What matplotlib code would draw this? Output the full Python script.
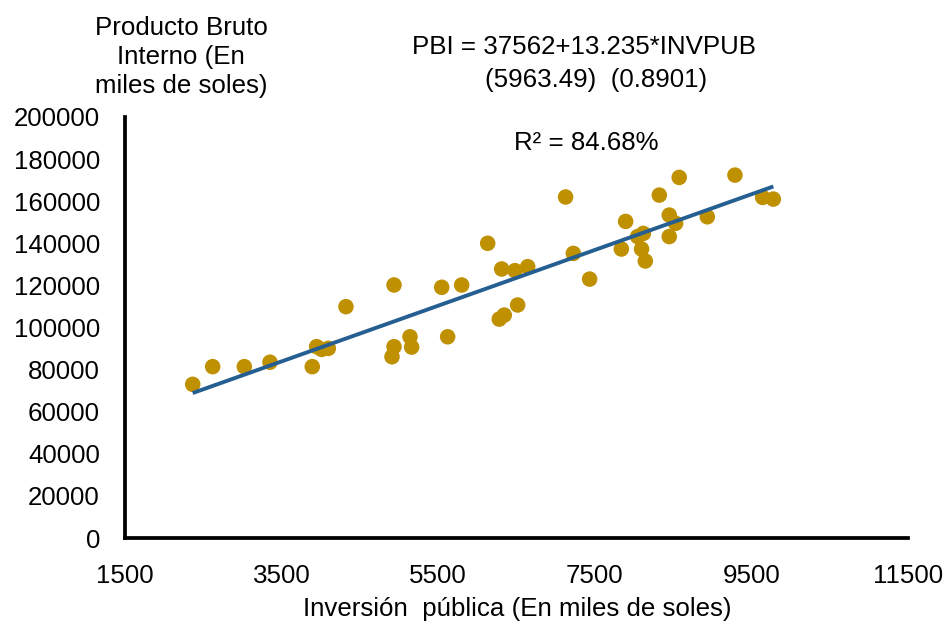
import matplotlib
matplotlib.use("Agg")
import matplotlib.pyplot as plt
import numpy as np

plt.rcParams['font.family'] = ['Liberation Sans', 'DejaVu Sans']

# Data
inv_publica = [2365, 2620, 3024, 3352, 3892, 3948, 4012, 4097, 4322, 4910,
               4936, 4936, 5140, 5161, 5545, 5621, 5800, 6132, 6280, 6344,
               6311, 6481, 6515, 6643, 7127, 7226, 7434, 7839, 7894, 8047,
               8120, 8097, 8145, 8324, 8451, 8451, 8532, 8578, 8937, 9290,
               9644, 9780]
pbi = [73000, 81400, 81400, 83500, 81400, 90900, 89600, 90100, 109900, 86100,
       90900, 120200, 95600, 90700, 119100, 95600, 120200, 140000, 104000, 105900,
       127800, 127000, 110700, 128900, 162000, 135200, 123000, 137300, 150400, 143200,
       144700, 137300, 131600, 162900, 153400, 143200, 149500, 171300, 152600, 172400,
       161800, 161000]

intercept = 37562
slope = 13.235
x_ticks = [1500, 3500, 5500, 7500, 9500, 11500]
y_ticks = list(range(0, 200001, 20000))

point_color = '#BF9000'
line_color = '#255E91'
fs = 18.6

fig = plt.figure(figsize=(9.51, 6.24), dpi=100)
ax = fig.add_axes([0.1314, 0.1378, 0.8234, 0.6747])

ax.scatter(inv_publica, pbi, s=125, color=point_color, edgecolors='none', zorder=3)
xl = np.array([min(inv_publica), max(inv_publica)])
ax.plot(xl, intercept + slope * xl, color=line_color, lw=2.8, zorder=4,
        solid_capstyle='butt')

ax.set_xlim(1500, 11500)
ax.set_ylim(0, 200000)
ax.set_xticks(x_ticks)
ax.set_yticks(y_ticks)
ax.set_xticklabels([str(v) for v in x_ticks])
ax.set_yticklabels([str(v) for v in y_ticks])
ax.tick_params(axis='both', length=0, labelsize=fs, colors='black')
ax.tick_params(axis='y', pad=18)
ax.tick_params(axis='x', pad=19)

for s in ['top', 'right']:
    ax.spines[s].set_visible(False)
for s in ['left', 'bottom']:
    ax.spines[s].set_linewidth(2.7)
    ax.spines[s].set_color('black')

fig.text(517/951, 1 - 609/624, 'Inversión  pública (En miles de soles)',
         ha='center', va='center', fontsize=fs)
fig.text(181/951, 1 - 57/624, 'Producto Bruto\nInterno (En\nmiles de soles)',
         ha='center', va='center', fontsize=fs, multialignment='center',
         linespacing=1.25)
fig.text(584.5/951, 1 - 47/624, 'PBI = 37562+13.235*INVPUB',
         ha='center', va='center', fontsize=fs)
fig.text(596/951, 1 - 80/624, '(5963.49)  (0.8901)',
         ha='center', va='center', fontsize=fs)
fig.text(586/951, 1 - 143/624, 'R² = 84.68%',
         ha='center', va='center', fontsize=fs)

fig.savefig('out.png', dpi=100)
